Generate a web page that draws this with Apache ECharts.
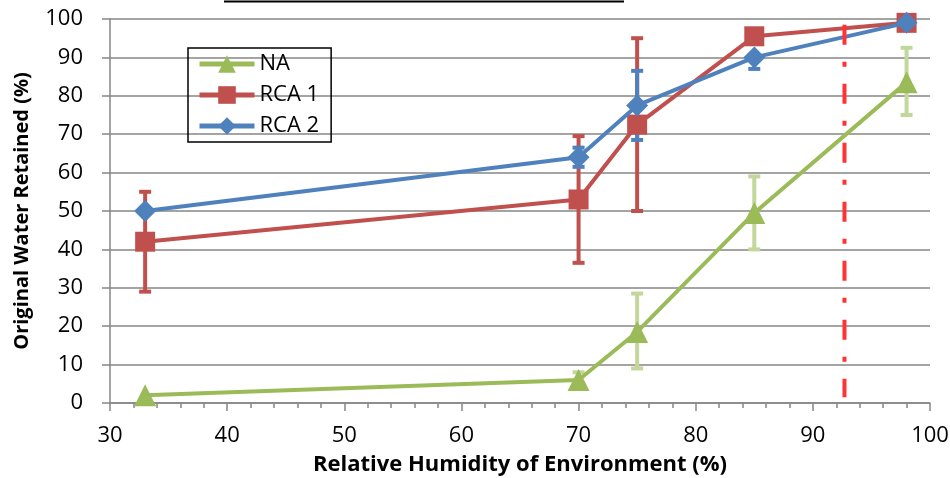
<!DOCTYPE html>
<html><head><meta charset="utf-8">
<script src="https://cdn.jsdelivr.net/npm/echarts@6/dist/echarts.min.js"></script>
<style>html,body{margin:0;padding:0;background:#fff}#c{width:950px;height:478px}</style>
</head><body><div id="c"></div>
<script>
const humidity = [33, 70, 75, 85, 98];
const naValues = [2, 6, 18.5, 49.5, 83.5];
const rca1Values = [42, 53, 72.5, 95.5, 99];
const rca2Values = [50, 64, 77.5, 90, 99];
// error bars: [x, low, high]
const naErr = [[70, 4.5, 8], [75, 9, 28.5], [85, 40, 59], [98, 75, 92.5]];
const rca1Err = [[33, 29, 55], [70, 36.5, 69.5], [75, 50, 95]];
const rca2Err = [[70, 61.5, 66.5], [75, 68.5, 86.5], [85, 87, 90]];
const thresholdX = 92.7;
const thresholdRange = [1.5, 98.5];
const xTicks = [30, 40, 50, 60, 70, 80, 90, 100];
const yTicks = [0, 10, 20, 30, 40, 50, 60, 70, 80, 90, 100];

const FONT = "'Open Sans',sans-serif";
const GREEN = '#9BBB59', GREEN_ERR = '#C3D69B', RED = '#C0504D', BLUE = '#4F81BD';
const AX = '#868686';

function pair(xs, ys) { return xs.map((x, i) => [x, ys[i]]); }
function errSeries(data, color) {
  return {
    type: 'custom', data: data, z: 1, silent: true,
    renderItem: function (params, api) {
      const x = api.value(0);
      const lo = api.coord([x, api.value(1)]);
      const hi = api.coord([x, api.value(2)]);
      const w = 6;
      const st = { stroke: color, lineWidth: 4 };
      return { type: 'group', children: [
        { type: 'line', shape: { x1: lo[0], y1: lo[1], x2: hi[0], y2: hi[1] }, style: st },
        { type: 'line', shape: { x1: lo[0] - w, y1: lo[1], x2: lo[0] + w, y2: lo[1] }, style: st },
        { type: 'line', shape: { x1: hi[0] - w, y1: hi[1], x2: hi[0] + w, y2: hi[1] }, style: st }
      ]};
    }
  };
}

const chart = echarts.init(document.getElementById('c'));
chart.setOption({
  animation: false,
  grid: { left: 110, right: 20, top: 19, bottom: 75, containLabel: false, outerBoundsMode: 'none' },
  xAxis: {
    type: 'value', min: 30, max: 100, interval: 10,
    name: 'Relative Humidity of Environment (%)', nameLocation: 'middle', nameGap: 62,
    nameTextStyle: { fontFamily: FONT, fontSize: 22, fontWeight: 'bold', color: '#000', verticalAlign: 'middle' },
    axisLine: { lineStyle: { color: AX, width: 1.5 } },
    axisTick: { show: true, length: 8, lineStyle: { color: AX, width: 1.5 } },
    minorTick: { show: true, splitNumber: 5, length: 5, lineStyle: { color: AX, width: 1.5 } },
    axisLabel: { fontFamily: FONT, fontSize: 22, color: '#000', margin: 22, formatter: v => xTicks.includes(v) ? String(v) : '' },
    splitLine: { show: false }
  },
  yAxis: {
    type: 'value', min: 0, max: 100, interval: 10,
    name: 'Original Water Retained (%)', nameLocation: 'middle', nameGap: 88, nameRotate: 90,
    nameTextStyle: { fontFamily: FONT, fontSize: 20, fontWeight: 'bold', color: '#000', verticalAlign: 'middle' },
    axisLine: { show: true, lineStyle: { color: AX, width: 1.5 } },
    axisTick: { show: true, length: 8, lineStyle: { color: AX, width: 1.5 } },
    axisLabel: { fontFamily: FONT, fontSize: 22, color: '#000', margin: 27, formatter: v => yTicks.includes(v) ? String(v) : '' },
    splitLine: { show: true, lineStyle: { color: AX, width: 1.5 } }
  },
  legend: {
    orient: 'vertical', left: 188, top: 48,
    borderColor: '#000', borderWidth: 1.5, padding: [5, 12, 5, 9],
    itemWidth: 55, itemHeight: 22, itemGap: 9,
    lineStyle: { width: 5 },
    textStyle: { fontFamily: FONT, fontSize: 22, color: '#000' },
    data: ['NA', 'RCA 1', 'RCA 2']
  },
  graphic: [{ type: 'line', shape: { x1: 224, y1: 1.5, x2: 624, y2: 1.5 }, style: { stroke: '#000', lineWidth: 2 } }],
  series: [
    errSeries(naErr, GREEN_ERR),
    errSeries(rca1Err, RED),
    errSeries(rca2Err, BLUE),
    { name: 'NA', type: 'line', data: pair(humidity, naValues), symbol: 'triangle', symbolSize: 22,
      lineStyle: { color: GREEN, width: 4 }, itemStyle: { color: GREEN }, z: 3 },
    { name: 'RCA 1', type: 'line', data: pair(humidity, rca1Values), symbol: 'rect', symbolSize: 20,
      lineStyle: { color: RED, width: 4 }, itemStyle: { color: RED }, z: 3 },
    { name: 'RCA 2', type: 'line', data: pair(humidity, rca2Values), symbol: 'diamond', symbolSize: 22,
      lineStyle: { color: BLUE, width: 4 }, itemStyle: { color: BLUE }, z: 4 },
    { type: 'line', data: [[thresholdX, thresholdRange[1]], [thresholdX, thresholdRange[0]]], symbol: 'none', silent: true,
      lineStyle: { color: '#FF3333', width: 4, type: [20, 17, 5, 17] }, z: 5 }
  ]
});
</script></body></html>
